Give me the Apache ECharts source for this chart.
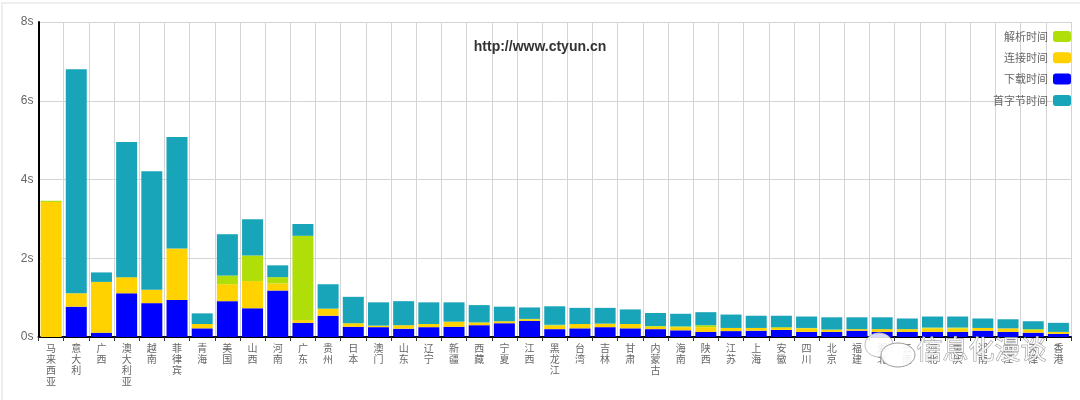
<!DOCTYPE html>
<html lang="zh">
<head>
  <meta charset="UTF-8">
  <title>ctyun</title>
  <style>
    html, body { margin: 0; padding: 0; background: #fff; }
    #frame { position: absolute; left: 1px; top: 2px; width: 1090px; height: 410px; border: 2px solid #eee; }
    #wrap { position: absolute; left: 0; top: 0; width: 1080px; height: 400px; overflow: hidden; }
    #container { position: absolute; left: 0; top: 0; width: 1080px; height: 400px; }
  </style>
</head>
<body>
  <div id="wrap">
    <div id="frame"></div>
    <div id="container"></div>
  </div>
  <script src="https://cdn.jsdelivr.net/npm/echarts@6/dist/echarts.min.js"></script>
  <script>
    // 地区 (第34、36-40个被水印挡住，按可见笔画估读)
    var categories = ['马来西亚', '意大利', '广西', '澳大利亚', '越南', '菲律宾', '青海', '美国', '山西', '河南', '广东', '贵州', '日本', '澳门', '山东', '辽宁', '新疆', '西藏', '宁夏', '江西', '黑龙江', '台湾', '吉林', '甘肃', '内蒙古', '海南', '陕西', '江苏', '上海', '安徽', '四川', '北京', '福建', '湖北', '云南', '河北', '重庆', '湖南', '浙江', '天津', '香港']
    var downloadTime = [0, 0.77, 0.11, 1.11, 0.86, 0.94, 0.22, 0.91, 0.73, 1.18, 0.36, 0.54, 0.26, 0.25, 0.21, 0.25, 0.26, 0.30, 0.35, 0.41, 0.20, 0.22, 0.25, 0.22, 0.20, 0.17, 0.13, 0.15, 0.16, 0.18, 0.13, 0.13, 0.16, 0.13, 0.13, 0.13, 0.13, 0.16, 0.13, 0.11, 0.08]
    var connectTime = [3.43, 0.34, 1.29, 0.41, 0.34, 1.31, 0.11, 0.43, 0.69, 0.18, 0.07, 0.18, 0.09, 0.04, 0.09, 0.08, 0.13, 0.07, 0.05, 0.04, 0.09, 0.11, 0.09, 0.11, 0.06, 0.08, 0.12, 0.08, 0.07, 0.05, 0.09, 0.05, 0.04, 0.07, 0.07, 0.09, 0.09, 0.07, 0.09, 0.07, 0.05]
    var parseTime = [0.03, 0, 0, 0, 0, 0, 0, 0.22, 0.65, 0.16, 2.14, 0, 0, 0, 0, 0, 0, 0, 0, 0.01, 0.02, 0, 0, 0, 0.02, 0.02, 0.05, 0, 0, 0.02, 0.01, 0.01, 0, 0, 0, 0.02, 0.02, 0, 0, 0.02, 0]
    var firstByteTime = [0, 5.69, 0.24, 3.43, 3.01, 2.83, 0.27, 1.05, 0.92, 0.30, 0.30, 0.62, 0.67, 0.59, 0.61, 0.55, 0.49, 0.44, 0.37, 0.29, 0.47, 0.41, 0.40, 0.37, 0.33, 0.32, 0.33, 0.34, 0.31, 0.29, 0.29, 0.31, 0.30, 0.30, 0.27, 0.28, 0.28, 0.24, 0.23, 0.20, 0.23]
    var legendNames = ['解析时间', '连接时间', '下载时间', '首字节时间']

    var cjk = '"Noto Sans CJK SC", "Liberation Sans", sans-serif'

    var barSeries = function (name, data, color) {
      return {
        name: name,
        type: 'bar',
        stack: 'total',
        barWidth: 21,
        data: data,
        itemStyle: { color: color }
      }
    }

    var charts = echarts.init(document.querySelector('#container'), null, { renderer: 'canvas' })
    var option = {
      animation: false,
      title: {
        text: 'http://www.ctyun.cn',
        left: 'center',
        top: 35,
        textStyle: { color: '#333', fontSize: 14, fontWeight: 'bold', fontFamily: '"Liberation Sans", Arial, sans-serif' }
      },
      legend: {
        data: legendNames,
        orient: 'vertical',
        padding: 0,
        right: 9,
        top: 31,
        align: 'right',
        itemWidth: 18,
        itemHeight: 11,
        itemGap: 10.3,
        textStyle: { color: '#666', fontSize: 11, fontFamily: cjk }
      },
      grid: { left: 38.5, right: 9, top: 22, bottom: 63 },
      xAxis: {
        type: 'category',
        data: categories,
        axisLine: { lineStyle: { color: '#000', width: 2 } },
        axisTick: { show: true, interval: 0, length: 4, lineStyle: { color: '#333' } },
        splitLine: { show: true, interval: 0, lineStyle: { color: '#d4d4d4', width: 1 } },
        axisLabel: {
          interval: 0,
          margin: 6,
          color: '#666',
          fontSize: 10,
          lineHeight: 11,
          fontFamily: cjk,
          formatter: function (v) { return v.split('').join('\n') }
        }
      },
      yAxis: {
        type: 'value',
        min: 0,
        max: 8,
        interval: 2,
        axisLine: { show: true, lineStyle: { color: '#000', width: 2 } },
        axisTick: { show: false },
        splitLine: { lineStyle: { color: '#d4d4d4', width: 1 } },
        axisLabel: {
          formatter: '{value}s',
          margin: 5,
          padding: [5, 0, 0, 0],
          color: '#666',
          fontSize: 12,
          fontFamily: '"Liberation Sans", Arial, sans-serif'
        }
      },
      series: [
        barSeries('下载时间', downloadTime, '#0000ff'),
        barSeries('连接时间', connectTime, '#ffd200'),
        barSeries('解析时间', parseTime, '#b0de09'),
        barSeries('首字节时间', firstByteTime, '#18a4b9')
      ],
      // 右下角的水印
      graphic: [
        { type: 'ellipse', z: 50, shape: { cx: 879, cy: 345, rx: 14, ry: 12 }, style: { fill: 'rgba(255,255,255,0.85)', stroke: '#bbb', lineWidth: 1 } },
        { type: 'ellipse', z: 51, shape: { cx: 898, cy: 355, rx: 17, ry: 12 }, style: { fill: 'rgba(255,255,255,0.9)', stroke: '#999', lineWidth: 1 } },
        { type: 'text', z: 52, left: 916, top: 336, style: { text: '信息化漫谈', fill: 'rgba(255,255,255,0.8)', stroke: '#888', lineWidth: 0.8, fontSize: 26, fontFamily: cjk } }
      ]
    }
    charts.setOption(option)
    window.onresize = charts.resize
  </script>
</body>
</html>
